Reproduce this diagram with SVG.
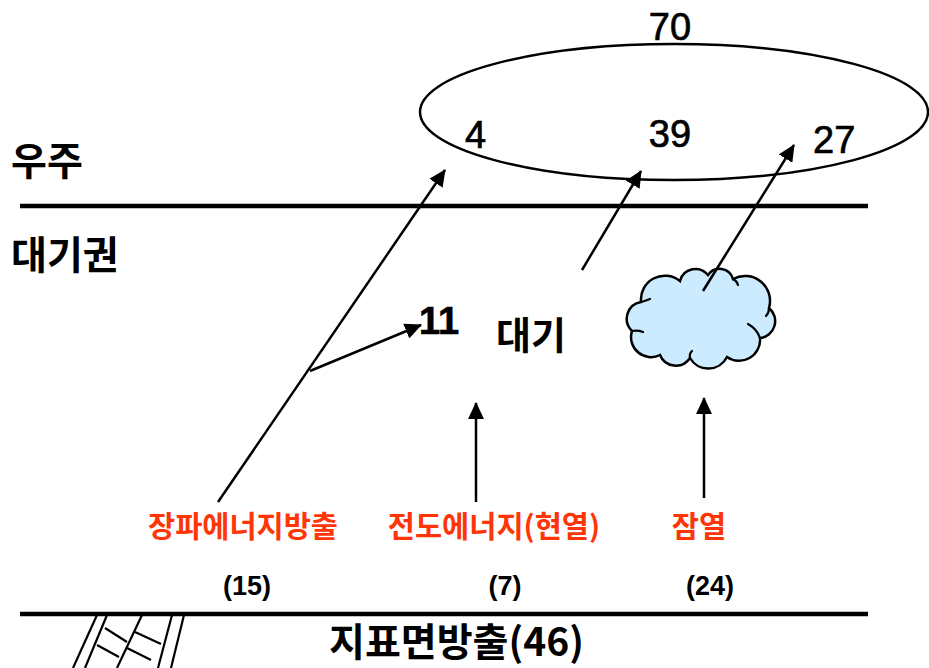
<svg xmlns="http://www.w3.org/2000/svg" width="929" height="668" viewBox="0 0 929 668">
  <style>
    .num { font-family: "Liberation Sans", Arial, sans-serif; fill: #000; stroke: #000; stroke-width: 0.7; }
    .ko { font-family: "Noto Sans CJK KR", "Noto Sans", sans-serif; font-weight: bold; fill: #000; }
    .red { font-family: "Noto Sans CJK KR", "Noto Sans", sans-serif; font-weight: bold; fill: #FF3508; font-size: 29.5px; text-anchor: middle; }
    .val { font-family: "Liberation Sans", Arial, sans-serif; font-weight: bold; font-size: 27px; text-anchor: middle; fill: #000; }
    .edge { stroke: #000; stroke-width: 2.5; fill: none; }
    .rule { stroke: #000; stroke-width: 4.5; }
    .ladder { stroke: #000; stroke-width: 2.2; fill: none; }
    .curl { stroke: #000; stroke-width: 2.2; fill: none; stroke-linecap: round; }
  </style>
  <defs>
    <marker id="head" markerUnits="userSpaceOnUse" markerWidth="18" markerHeight="16" refX="16" refY="8" orient="auto">
      <path d="M0,0 L17,8 L0,16 Z" fill="#000"/>
    </marker>
  </defs>

  <rect width="929" height="668" fill="#fff"/>

  <!-- boundary lines -->
  <line class="rule" x1="20" y1="206" x2="868" y2="206"/>
  <line class="rule" x1="20" y1="614" x2="868" y2="614"/>

  <!-- layer labels -->
  <text class="ko" x="11" y="175" font-size="39">우주</text>
  <text class="ko" x="11" y="269" font-size="39">대기권</text>

  <!-- space ellipse with outgoing values -->
  <g id="space">
    <ellipse cx="674" cy="112" rx="254" ry="68" fill="none" stroke="#000" stroke-width="2.5"/>
    <text class="num" x="670" y="40" font-size="38" text-anchor="middle">70</text>
    <text class="num" x="465" y="148" font-size="38">4</text>
    <text class="num" x="670" y="147" font-size="38" text-anchor="middle">39</text>
    <text class="num" x="813" y="153" font-size="38">27</text>
  </g>

  <!-- atmosphere -->
  <g id="atmosphere">
    <text class="ko" x="496" y="349" font-size="38">대기</text>
    <text class="num" x="419" y="334" font-size="38" font-weight="bold" stroke-width="0">11</text>
  </g>

  <!-- cloud -->
  <g id="cloud">
    <path d="M632,331 A17,17 0 0 1 641,302 A24,24 0 0 1 680,281 A16,16 0 0 1 708,275 A14,14 0 0 1 733,279 A25,25 0 0 1 769,308 A17,17 0 0 1 760,338 A21,21 0 0 1 727,357 A21,21 0 0 1 690,358 A17,17 0 0 1 660,355 A20,20 0 0 1 632,331 Z" fill="#CCEBFF" stroke="#000" stroke-width="2.5"/>
    <path class="curl" d="M641,302 q4,-1 9,-3"/>
    <path class="curl" d="M632,331 q6,-1 11,1"/>
    <path class="curl" d="M690,358 q-1,-4 2,-7"/>
    <path class="curl" d="M760,338 q-3,-9 -12,-14"/>
    <path class="curl" d="M733,279 q4,2 5,6"/>
    <path class="curl" d="M769,308 q0,5 -3,8"/>
  </g>

  <!-- source labels -->
  <g id="longwave">
    <text class="red" x="243" y="537">장파에너지방출</text>
    <text class="val" x="247" y="595">(15)</text>
  </g>
  <g id="conduction">
    <text class="red" x="494" y="537">전도에너지(현열)</text>
    <text class="val" x="505" y="595">(7)</text>
  </g>
  <g id="latent">
    <text class="red" x="699" y="537">잠열</text>
    <text class="val" x="710" y="595">(24)</text>
  </g>

  <!-- surface emission -->
  <g id="surface">
    <text class="ko" x="329" y="656" font-size="39">지표면방출(46)</text>
    <g class="ladder">
      <line x1="97" y1="615" x2="73" y2="668"/>
      <line x1="107" y1="615" x2="85" y2="668"/>
      <line x1="142" y1="615" x2="117" y2="668"/>
      <line x1="172" y1="615" x2="158" y2="668"/>
      <line x1="184" y1="615" x2="171" y2="668"/>
      <line x1="105" y1="628" x2="127" y2="642"/>
      <line x1="97" y1="645" x2="119" y2="657"/>
      <line x1="135" y1="632" x2="161" y2="644"/>
      <line x1="127" y1="648" x2="151" y2="660"/>
    </g>
  </g>

  <!-- connectors -->
  <g id="connectors" class="edge">
    <line x1="218" y1="502" x2="445" y2="170" marker-end="url(#head)"/>
    <line x1="310" y1="371" x2="421" y2="325" marker-end="url(#head)"/>
    <line x1="582" y1="270" x2="641" y2="171" marker-end="url(#head)"/>
    <line x1="703" y1="291" x2="794" y2="145" marker-end="url(#head)"/>
    <line x1="476" y1="502" x2="476" y2="403" marker-end="url(#head)"/>
    <line x1="704" y1="498" x2="704" y2="398" marker-end="url(#head)"/>
  </g>
</svg>
